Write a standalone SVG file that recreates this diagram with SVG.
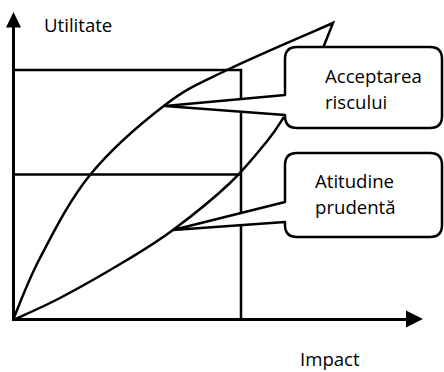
<svg xmlns="http://www.w3.org/2000/svg" width="444" height="372" viewBox="0 0 444 372">
<style>
.ln{fill:none;stroke:#000;stroke-width:2.5;stroke-linejoin:miter}
.ax{fill:none;stroke:#000;stroke-width:3}
.co{fill:#fff;stroke:#000;stroke-width:2.5;stroke-linejoin:round}
.t{font-family:"Open Sans","Noto Sans",sans-serif;font-size:18.6px;fill:#000}
</style>
<rect width="444" height="372" fill="#fff"/>
<g id="connectors">
<line class="ax" x1="13.5" y1="321" x2="13.5" y2="26"/>
<polygon points="13.5,12 6,27.5 21,27.5" fill="#000"/>
<line class="ax" x1="12" y1="319.5" x2="407" y2="319.5"/>
<polygon points="423,319 406,310.5 406,327.5" fill="#000"/>
<path class="ln" d="M13,70 H241 V320 M13,174.5 H241"/>
<path class="ln" d="M13,320 C17.5,309.7 27.2,282.2 40,258 C52.8,233.8 69.2,200.5 90,175 C110.8,149.5 142.2,122.5 165,105 C187.8,87.5 199,83.7 227,70 C255,56.3 315.3,30.8 333,23 L323,48"/>
<path class="ln" d="M13,320 C20.8,316.3 41,308 60,298 C79,288 108.2,271.3 127,260 C145.8,248.7 155.8,242.8 173,230 C190.2,217.2 214.2,198 230,183 C245.8,168 259,151 268,140 C277,129 281.3,120.8 284,117"/>
</g>
<g id="callout-acceptarea">
<path class="co" d="M297,47 H430 Q442,47 442,59 V116 Q442,128 430,128 H297 Q285,128 285,116 V115 L165,106 L285,95 V59 Q285,47 297,47 Z"/>
<text class="t" x="325" y="83">Acceptarea</text>
<text class="t" x="325" y="109">riscului</text>
</g>
<g id="callout-atitudine">
<path class="co" d="M297,153 H430 Q442,153 442,165 V225 Q442,237 430,237 H297 Q285,237 285,225 V222 L173,230 L285,202 V165 Q285,153 297,153 Z"/>
<text class="t" x="315" y="188">Atitudine</text>
<text class="t" x="315" y="214">prudentă</text>
</g>
<g id="label-utilitate"><text class="t" x="44" y="32">Utilitate</text></g>
<g id="label-impact"><text class="t" x="300" y="366">Impact</text></g>
</svg>
